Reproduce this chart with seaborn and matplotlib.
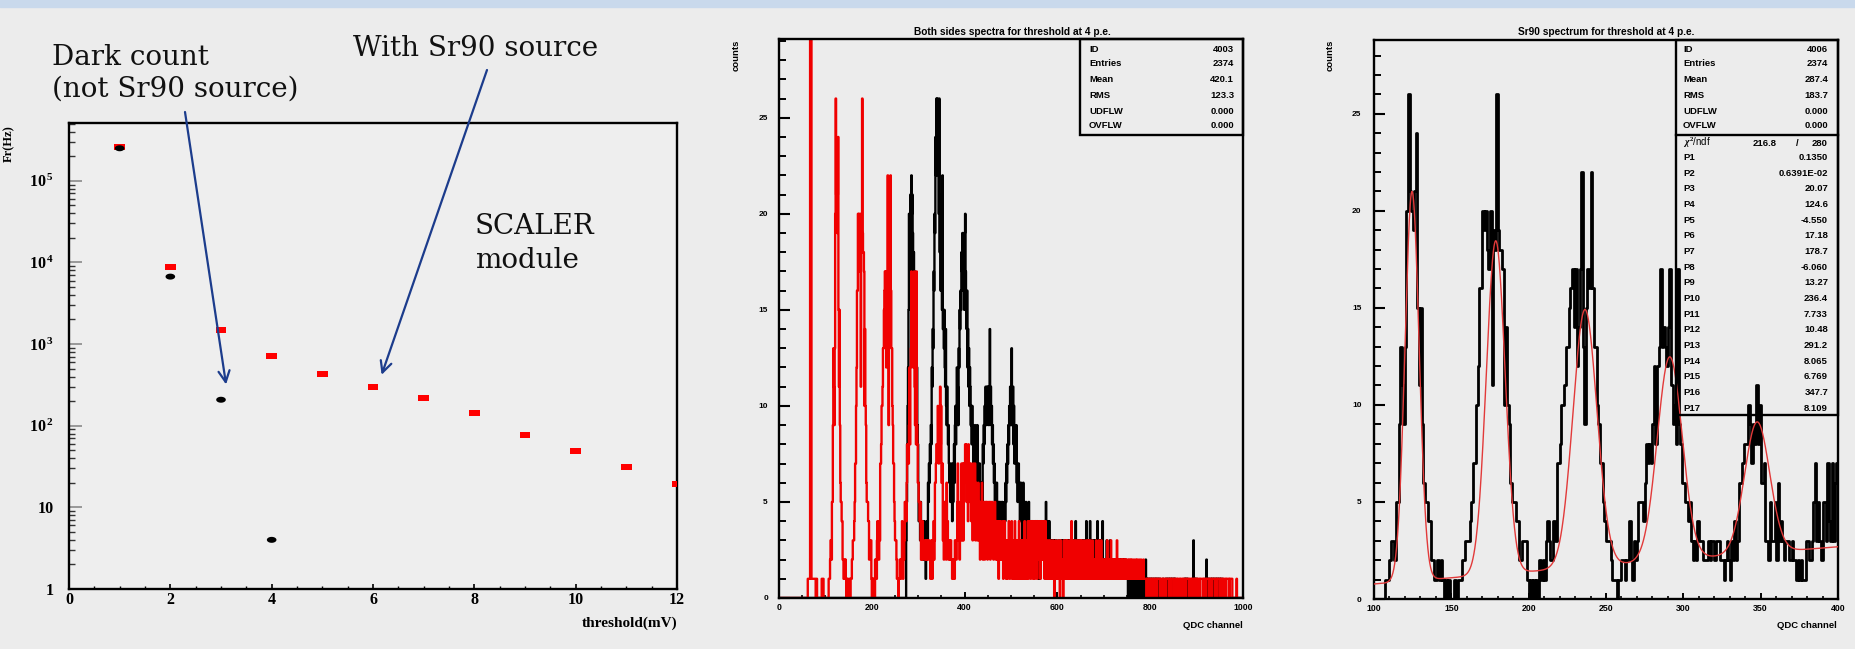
import numpy as np
import pandas as pd
import matplotlib
matplotlib.use("Agg")
import matplotlib.pyplot as plt
import seaborn as sns
from matplotlib.markers import MarkerStyle
from matplotlib.path import Path
from matplotlib.patches import Rectangle
from matplotlib.lines import Line2D
from matplotlib.ticker import FixedLocator, MultipleLocator, NullFormatter, FixedFormatter

# ---------------- data: left panel (SCALER rates) ----------------
thresholds_mv = [1, 2, 3, 4, 5, 6, 7, 8, 9, 10, 11, 12]
rate_with_sr90 = [2.6e5, 8900, 1500, 710, 435, 295, 218, 142, 76, 49, 31, 19.5]
dark_thresholds_mv = [1, 2, 3, 4]
rate_dark = [2.5e5, 6700, 208, 4.0]
log_tick_values = [1, 10, 100, 1000, 1e4, 1e5]
log_tick_labels = ["1", "10", "10$^{\\,2}$", "10$^{\\,3}$", "10$^{\\,4}$", "10$^{\\,5}$"]

# ---------------- data: histogram ID 4006 (Sr90 spectrum), 1 channel bins ----------------
sr90_000_099 = [0] * 60 + [
    0, 0, 1, 1, 1, 1, 1, 32, 36, 30,
    1, 1, 1, 1, 1, 1, 1, 1, 1, 0,
    0, 1, 0, 0, 0, 0, 0, 0, 0, 0,
    0, 0, 1, 1, 1, 1, 0, 0, 0, 0]
sr90_100_399 = [
    0, 0, 0, 0, 0, 0, 0, 1, 1, 1,
    2, 3, 3, 2, 5, 5, 9, 13, 11, 9,
    13, 20, 26, 21, 20, 19, 21, 24, 15, 11,
    15, 9, 6, 5, 5, 4, 4, 2, 2, 1,
    1, 2, 1, 2, 1, 0, 1, 0, 1, 0,
    0, 0, 1, 0, 1, 1, 1, 2, 2, 3,
    3, 3, 4, 5, 7, 7, 10, 12, 16, 16,
    20, 19, 20, 18, 17, 20, 11, 19, 18, 26,
    19, 18, 18, 17, 10, 14, 10, 9, 6, 5,
    5, 5, 4, 4, 2, 2, 3, 3, 3, 1,
    0, 1, 0, 1, 0, 1, 0, 2, 1, 2,
    1, 3, 4, 3, 2, 2, 4, 3, 7, 7,
    8, 10, 10, 11, 13, 13, 15, 16, 17, 14,
    17, 12, 14, 17, 22, 13, 9, 15, 17, 16,
    22, 16, 13, 13, 10, 9, 7, 7, 5, 4,
    3, 3, 3, 2, 1, 1, 1, 0, 1, 1,
    2, 2, 1, 2, 2, 4, 2, 1, 3, 2,
    3, 5, 5, 5, 4, 6, 8, 7, 8, 7,
    9, 12, 8, 12, 13, 17, 13, 14, 13, 12,
    14, 17, 11, 9, 10, 8, 17, 9, 8, 6,
    6, 5, 5, 4, 5, 3, 2, 3, 2, 4,
    3, 3, 3, 2, 2, 2, 3, 2, 3, 3,
    2, 3, 3, 3, 2, 2, 1, 2, 3, 2,
    1, 3, 2, 4, 2, 3, 6, 6, 7, 8,
    8, 8, 10, 9, 7, 9, 8, 11, 8, 10,
    6, 6, 7, 3, 3, 2, 5, 3, 3, 5,
    2, 6, 3, 4, 3, 2, 3, 3, 2, 2,
    3, 2, 2, 1, 2, 1, 2, 1, 1, 3,
    3, 2, 2, 3, 5, 7, 3, 5, 3, 2,
    5, 5, 3, 7, 4, 3, 7, 3, 6, 7]
sr90_400_999 = [
    6, 8, 7, 8, 5, 7, 6, 4, 8, 6,
    7, 5, 6, 7, 4, 5, 6, 3, 7, 5,
    4, 5, 7, 3, 6, 4, 5, 3, 4, 6,
    3, 5, 4, 2, 5, 3, 4, 6, 3, 2,
    4, 3, 5, 2, 4, 5, 3, 5, 4, 2,
    5, 3, 4, 5, 3, 2, 5, 4, 3, 5,
    4, 3, 2, 4, 3, 5, 4, 2, 3, 4,
    2, 4, 3, 1, 4, 2, 3, 4, 2, 3,
    3, 2, 4, 1, 3, 2, 4, 2, 3, 1,
    2, 3, 1, 3, 2, 4, 2, 1, 3, 2,
    2, 4, 1, 3, 2, 1, 3, 2, 4, 1,
    3, 2, 1, 2, 3, 1, 2, 4, 2, 1,
    2, 1, 3, 2, 1, 3, 2, 1, 2, 4,
    1, 2, 3, 1, 2, 2, 4, 1, 3, 2,
    4, 2, 1, 4, 3, 2, 4, 1, 2, 4,
    3, 1, 4, 2, 4, 3, 1, 4, 2, 3,
    4, 2, 3, 1, 4, 2, 4, 3, 2, 4,
    2, 4, 1, 3, 4, 2, 1, 3, 2, 1,
    2, 3, 1, 2, 1, 3, 2, 1, 2, 1,
    3, 1, 2, 0, 2, 1, 3, 2, 1, 2,
    1, 2, 3, 1, 2, 0, 1, 3, 1, 2,
    2, 1, 0, 2, 3, 1, 2, 1, 3, 1,
    1, 3, 2, 1, 2, 1, 3, 2, 1, 2,
    4, 2, 1, 3, 2, 1, 2, 3, 1, 2,
    2, 3, 1, 2, 1, 3, 2, 1, 2, 3,
    1, 2, 3, 1, 2, 2, 1, 3, 2, 1,
    2, 1, 3, 2, 1, 2, 3, 1, 2, 1,
    3, 1, 2, 1, 2, 3, 1, 2, 1, 2,
    1, 2, 1, 3, 2, 1, 2, 1, 2, 3,
    2, 1, 2, 1, 3, 1, 2, 1, 2, 1,
    1, 2, 1, 2, 1, 2, 1, 3, 1, 2,
    2, 1, 2, 1, 1, 3, 1, 2, 1, 2,
    1, 2, 1, 2, 2, 1, 2, 1, 3, 1,
    2, 1, 2, 1, 2, 1, 1, 2, 1, 2,
    1, 2, 1, 1, 2, 1, 2, 1, 2, 1,
    1, 1, 2, 1, 1, 2, 1, 1, 2, 1,
    1, 2, 1, 1, 1, 2, 1, 1, 1, 2,
    1, 1, 2, 1, 1, 1, 2, 1, 1, 1,
    2, 1, 1, 1, 1, 2, 1, 1, 1, 1,
    1, 1, 0, 1, 1, 1, 1, 0, 1, 1,
    1, 1, 1, 0, 1, 1, 1, 1, 1, 0,
    1, 1, 1, 1, 0, 1, 1, 1, 1, 1,
    1, 0, 1, 1, 1, 1, 1, 0, 1, 1,
    1, 1, 1, 0, 1, 1, 1, 1, 1, 1,
    0, 1, 1, 1, 1, 0, 1, 1, 1, 1,
    1, 1, 0, 1, 1, 1, 1, 1, 0, 1,
    1, 1, 1, 1, 0, 1, 1, 1, 1, 1,
    0, 1, 1, 1, 1, 1, 0, 1, 1, 1,
    1, 1, 1, 0, 1, 1, 1, 1, 1, 0,
    1, 1, 1, 1, 1, 0, 1, 1, 1, 1,
    1, 0, 1, 1, 1, 1, 1, 0, 1, 1,
    1, 1, 1, 1, 0, 1, 1, 1, 1, 1,
    0, 1, 1, 1, 1, 1, 1, 0, 1, 1,
    1, 1, 0, 1, 1, 1, 1, 1, 1, 0,
    1, 1, 1, 1, 0, 1, 1, 1, 1, 1,
    1, 0, 1, 1, 1, 1, 1, 0, 1, 1,
    1, 1, 1, 0, 1, 1, 1, 1, 1, 1,
    0, 1, 1, 1, 1, 1, 1, 0, 0, 0,
    0, 0, 0, 0, 0, 0, 1, 0, 0, 0,
    0, 0, 0, 0, 0, 0, 0, 0, 0, 0]

# ---------------- data: histogram ID 4003 (both sides), 1 channel bins ----------------
both_000_269 = [0] * 270
both_270_999 = [
    0, 0, 0, 0, 3, 5, 8, 10, 12, 15,
    20, 18, 20, 21, 17, 22, 20, 21, 19, 17,
    18, 14, 17, 12, 10, 11, 9, 12, 9, 8,
    6, 4, 5, 4, 3, 5, 3, 2, 4, 3,
    4, 2, 3, 4, 2, 3, 1, 3, 2, 4,
    3, 6, 5, 7, 6, 8, 7, 9, 8, 12,
    11, 14, 13, 17, 16, 20, 19, 24, 22, 26,
    23, 26, 25, 22, 20, 26, 18, 20, 16, 21,
    17, 15, 22, 14, 15, 13, 15, 12, 11, 14,
    10, 9, 11, 9, 8, 9, 7, 6, 7, 5,
    6, 5, 7, 4, 6, 5, 7, 8, 6, 9,
    10, 8, 10, 12, 10, 11, 9, 13, 12, 15,
    14, 16, 15, 18, 17, 19, 16, 18, 19, 15,
    19, 20, 17, 15, 14, 16, 12, 14, 11, 13,
    10, 12, 11, 9, 10, 8, 10, 9, 8, 7,
    8, 6, 9, 7, 5, 8, 6, 9, 5, 7,
    6, 5, 7, 5, 6, 4, 5, 6, 5, 8,
    7, 9, 8, 10, 9, 11, 10, 9, 11, 10,
    11, 10, 9, 11, 14, 10, 11, 9, 10, 8,
    9, 7, 8, 6, 7, 5, 6, 4, 5, 6,
    5, 4, 5, 3, 4, 5, 4, 3, 5, 4,
    3, 5, 4, 2, 4, 3, 5, 4, 6, 5,
    7, 6, 8, 7, 9, 8, 10, 9, 11, 10,
    9, 13, 10, 9, 11, 8, 10, 7, 9, 8,
    7, 9, 6, 7, 5, 6, 7, 5, 6, 4,
    5, 6, 4, 5, 3, 4, 6, 4, 3, 5,
    4, 3, 5, 4, 2, 4, 3, 4, 5, 3,
    4, 2, 3, 4, 3, 2, 4, 3, 2, 3,
    3, 2, 4, 3, 2, 3, 4, 2, 3, 1,
    2, 3, 1, 3, 2, 4, 3, 2, 3, 2,
    3, 2, 4, 3, 2, 5, 3, 2, 3, 4,
    3, 2, 4, 3, 2, 3, 1, 2, 3, 2,
    2, 3, 1, 2, 3, 2, 1, 2, 3, 2,
    2, 1, 2, 3, 2, 1, 2, 2, 3, 1,
    2, 3, 1, 2, 2, 3, 2, 1, 3, 2,
    3, 2, 1, 3, 2, 3, 2, 3, 1, 2,
    3, 2, 3, 1, 3, 2, 3, 2, 3, 4,
    2, 3, 1, 3, 2, 3, 2, 1, 3, 2,
    3, 1, 2, 3, 2, 3, 1, 2, 3, 2,
    3, 2, 4, 3, 2, 3, 2, 3, 1, 2,
    4, 3, 2, 3, 1, 3, 2, 3, 2, 3,
    2, 3, 1, 3, 2, 3, 4, 2, 3, 1,
    3, 2, 3, 2, 1, 3, 2, 4, 2, 1,
    2, 1, 2, 2, 1, 2, 3, 1, 2, 1,
    2, 1, 2, 3, 1, 2, 1, 2, 1, 2,
    1, 2, 2, 1, 2, 1, 2, 1, 2, 2,
    1, 2, 1, 2, 1, 2, 1, 1, 2, 1,
    2, 1, 2, 1, 2, 1, 1, 2, 1, 1,
    1, 1, 0, 1, 1, 1, 1, 0, 1, 1,
    1, 1, 1, 0, 1, 1, 1, 1, 0, 1,
    1, 0, 1, 1, 1, 1, 0, 1, 1, 1,
    1, 1, 0, 1, 1, 1, 1, 1, 0, 1,
    2, 1, 1, 1, 0, 1, 1, 1, 1, 0,
    1, 1, 0, 1, 1, 1, 0, 1, 1, 1,
    1, 0, 1, 1, 0, 1, 1, 1, 0, 1,
    1, 1, 0, 0, 0, 0, 0, 1, 1, 0,
    0, 0, 0, 1, 1, 1, 0, 1, 1, 1,
    1, 0, 1, 1, 1, 0, 1, 1, 1, 0,
    1, 1, 0, 1, 1, 0, 0, 0, 0, 0,
    0, 0, 0, 0, 0, 0, 0, 0, 0, 0,
    0, 0, 0, 1, 1, 0, 1, 1, 1, 0,
    1, 0, 0, 0, 0, 0, 0, 0, 0, 0,
    0, 0, 0, 3, 1, 1, 1, 0, 1, 1,
    1, 0, 0, 0, 0, 0, 0, 0, 0, 0,
    0, 0, 0, 0, 0, 0, 0, 0, 1, 1,
    1, 2, 1, 1, 0, 1, 1, 1, 1, 1,
    1, 1, 0, 1, 1, 1, 0, 1, 1, 1,
    1, 1, 0, 1, 1, 1, 1, 0, 1, 1,
    1, 0, 1, 1, 1, 1, 0, 0, 0, 0] + [0] * 40

# ---------------- fit parameters (read from the stats box) ----------------
fit_p1, fit_p2 = 0.1350, 0.6391e-02
gauss_amp = [20.07, 17.18, 13.27, 10.48, 6.769]
gauss_mean = [124.6, 178.7, 236.4, 291.2, 347.7]
gauss_sigma = [-4.550, -6.060, 7.733, 8.065, 8.109]

stats_labels_a = ["ID", "Entries", "Mean", "RMS", "UDFLW", "OVFLW"]
stats_values_4003 = ["4003", "2374", "420.1", "123.3", "0.000", "0.000"]
stats_values_4006 = ["4006", "2374", "287.4", "183.7", "0.000", "0.000"]
chi2_value, ndf_value = "216.8", "280"
fit_param_labels = ["P%d" % i for i in range(1, 18)]
fit_param_values = ["0.1350", "0.6391E-02", "20.07", "124.6", "-4.550", "17.18", "178.7",
                    "-6.060", "13.27", "236.4", "7.733", "10.48", "291.2", "8.065",
                    "6.769", "347.7", "8.109"]

# ---------------- build tables ----------------
sr90_counts = np.array(sr90_000_099 + sr90_100_399 + sr90_400_999, dtype=float)
both_counts = np.array(both_000_269 + both_270_999, dtype=float)
centers = np.arange(0, 1000) + 0.5
hist_df = pd.DataFrame({"channel": centers, "sr90": sr90_counts, "both": both_counts})

fit_x = np.linspace(100, 400, 1501)
fit_y = fit_p1 + fit_p2 * fit_x
for a, m, s in zip(gauss_amp, gauss_mean, gauss_sigma):
    fit_y = fit_y + a * np.exp(-0.5 * ((fit_x - m) / s) ** 2)
fit_df = pd.DataFrame({"x": fit_x, "y": fit_y})

# ---------------- figure ----------------
W, H = 1855, 649
BG = "#ececec"
plt.rcParams["mathtext.fontset"] = "custom"
plt.rcParams["mathtext.rm"] = "Liberation Serif:bold"
plt.rcParams["mathtext.bf"] = "Liberation Serif:bold"
plt.rcParams["mathtext.it"] = "Liberation Serif:bold:italic"

fig = plt.figure(figsize=(W / 100, H / 100), dpi=100, facecolor=BG)
fig.patches.append(Rectangle((0, 1 - 7 / H), 1, 7 / H, transform=fig.transFigure,
                             color="#c9d9ec", zorder=0))


def rect(l, t, r, b):
    return [l / W, 1 - b / H, (r - l) / W, (b - t) / H]


def ftext(x, y, s, **kw):
    return fig.text(x / W, 1 - y / H, s, **kw)


SANS = "Liberation Sans"
SERIF = "Liberation Serif"

# ================= left panel =================
ax1 = fig.add_axes(rect(69, 123, 677, 589))
ax1.set_facecolor("#eeeeee")
rect_marker = MarkerStyle(Path([(-1, -0.55), (1, -0.55), (1, 0.55), (-1, 0.55), (-1, -0.55)],
                               [1, 2, 2, 2, 79]))
th = np.linspace(0, 2 * np.pi, 40)
ell_marker = MarkerStyle(Path(np.column_stack([np.cos(th), 0.62 * np.sin(th)])))
sns.scatterplot(x=thresholds_mv, y=rate_with_sr90, marker=rect_marker, s=60,
                color="#ff0000", edgecolor="none", ax=ax1, zorder=3)
sns.scatterplot(x=dark_thresholds_mv, y=rate_dark, marker=ell_marker, s=48,
                color="#000000", edgecolor="none", ax=ax1, zorder=4)
ax1.set_yscale("log")
ax1.set_xlim(0, 12)
ax1.set_ylim(1, 5.1e5)
ax1.set_xlabel("")
ax1.set_ylabel("")
for sp in ax1.spines.values():
    sp.set_linewidth(1.7)
    sp.set_color("black")
ax1.yaxis.set_major_locator(FixedLocator(log_tick_values))
ax1.yaxis.set_major_formatter(FixedFormatter(log_tick_labels))
minor_vals = [m * 10 ** d for d in range(0, 6) for m in range(2, 10) if m * 10 ** d < 5.1e5]
ax1.yaxis.set_minor_locator(FixedLocator(minor_vals))
ax1.yaxis.set_minor_formatter(NullFormatter())
ax1.xaxis.set_major_locator(MultipleLocator(2))
ax1.xaxis.set_minor_locator(MultipleLocator(0.5))
ax1.tick_params(axis="y", which="major", direction="in", length=9, width=1.2,
                color="#8a8a8a", pad=11, labelsize=11.5)
ax1.tick_params(axis="y", which="minor", direction="in", length=4, width=1.0, color="#333333")
ax1.tick_params(axis="x", which="major", direction="in", length=3.5, width=1.2, pad=2,
                labelsize=11.5)
ax1.tick_params(axis="x", which="minor", direction="in", length=2.5, width=1.0)
for lab in ax1.get_xticklabels() + ax1.get_yticklabels():
    lab.set_fontfamily(SERIF)
    lab.set_fontweight("bold")
ftext(677, 623, "threshold(mV)", ha="right", va="center", fontsize=11,
      fontfamily=SERIF, fontweight="bold")
ftext(9, 125, "Fr(Hz)", ha="center", va="top", rotation=90, fontsize=9,
      fontfamily=SERIF, fontweight="bold")

ann_font = dict(fontfamily="DejaVu Serif", fontsize=20, color="#111111")
ftext(52, 65, "Dark count", ha="left", va="baseline", **ann_font)
ftext(52, 97, "(not Sr90 source)", ha="left", va="baseline", **ann_font)
ftext(353, 56, "With Sr90 source", ha="left", va="baseline", **ann_font)
ftext(475, 234, "SCALER", ha="left", va="baseline", **ann_font)
ftext(475, 268, "module", ha="left", va="baseline", **ann_font)
arrow_kw = dict(arrowstyle="->", color="#1c3c8c", lw=1.6, mutation_scale=20,
                shrinkA=0, shrinkB=0)
ax1.annotate("", xy=(3.1, 320), xycoords="data", xytext=(185 / W, 1 - 112 / H),
             textcoords="figure fraction", arrowprops=arrow_kw, annotation_clip=False)
ax1.annotate("", xy=(6.17, 420), xycoords="data", xytext=(487 / W, 1 - 70 / H),
             textcoords="figure fraction", arrowprops=arrow_kw, annotation_clip=False)


# ================= helper for ROOT-like histogram axes =================
def style_hist_axes(ax, xmaj, xmin_step, ypad):
    ax.set_facecolor(BG)
    ax.set_xlabel("")
    ax.set_ylabel("")
    for sp in ax.spines.values():
        sp.set_linewidth(1.7)
        sp.set_color("black")
    ax.xaxis.set_major_locator(MultipleLocator(xmaj))
    ax.xaxis.set_minor_locator(MultipleLocator(xmin_step))
    ax.yaxis.set_major_locator(MultipleLocator(5))
    ax.yaxis.set_minor_locator(MultipleLocator(1))
    ax.tick_params(axis="y", which="major", direction="in", length=8, width=1.5,
                   pad=ypad, labelsize=6)
    ax.tick_params(axis="y", which="minor", direction="in", length=5, width=1.4)
    ax.tick_params(axis="x", which="major", direction="in", length=4.5, width=1.4,
                   pad=3.5, labelsize=6.3)
    ax.tick_params(axis="x", which="minor", direction="in", length=2.2, width=1.2)
    for lab in ax.get_xticklabels() + ax.get_yticklabels():
        lab.set_fontfamily(SANS)
        lab.set_fontweight("bold")


stat_font = dict(fontfamily=SANS, fontweight="bold", fontsize=6.8, color="black")
row_y = [49, 64, 80, 96, 111, 126]
hist_kw = dict(binwidth=1, binrange=(0, 1000), element="step", fill=False)

# ================= middle panel =================
ax2 = fig.add_axes(rect(779, 39, 1243, 598))
sns.histplot(data=hist_df, x="channel", weights="both", color="black", linewidth=1.7,
             ax=ax2, **hist_kw)
sns.histplot(data=hist_df, x="channel", weights="sr90", color="#f00000", linewidth=1.7,
             ax=ax2, **hist_kw)
ax2.set_xlim(0, 1000)
ax2.set_ylim(0, 29.1)
style_hist_axes(ax2, 200, 50, 8)
ftext(1012, 32, "Both sides spectra for threshold at 4 p.e.", ha="center", va="center",
      fontfamily=SANS, fontweight="bold", fontsize=7.3)
ftext(1243, 626, "QDC channel", ha="right", va="center", fontfamily=SANS,
      fontweight="bold", fontsize=6.8)
ftext(736, 40, "counts", ha="center", va="top", rotation=90, fontfamily=SANS,
      fontweight="bold", fontsize=6.8)
fig.patches.append(Rectangle((1080 / W, 1 - 135 / H), (1243 - 1080) / W, (135 - 39) / H,
                             transform=fig.transFigure, fill=False, lw=1.7,
                             edgecolor="black", zorder=5))
for yy, lab, val in zip(row_y, stats_labels_a, stats_values_4003):
    ftext(1089, yy, lab, ha="left", va="center", **stat_font)
    ftext(1234, yy, val, ha="right", va="center", **stat_font)

# ================= right panel =================
ax3 = fig.add_axes(rect(1374, 40, 1838, 599))
sns.histplot(data=hist_df, x="channel", weights="sr90", color="black", linewidth=2.0,
             ax=ax3, **hist_kw)
sns.lineplot(data=fit_df, x="x", y="y", color="#e23a3a", linewidth=1.0, ax=ax3,
             zorder=4)
ax3.set_xlim(100, 400)
ax3.set_ylim(0, 28.8)
style_hist_axes(ax3, 50, 10, 9)
ftext(1606, 32, "Sr90 spectrum for threshold at 4 p.e.", ha="center", va="center",
      fontfamily=SANS, fontweight="bold", fontsize=7.3)
ftext(1837, 626, "QDC channel", ha="right", va="center", fontfamily=SANS,
      fontweight="bold", fontsize=6.8)
ftext(1330, 40, "counts", ha="center", va="top", rotation=90, fontfamily=SANS,
      fontweight="bold", fontsize=6.8)
fig.patches.append(Rectangle((1676 / W, 1 - 415 / H), (1838 - 1676) / W, (415 - 40) / H,
                             transform=fig.transFigure, fill=False, lw=1.7,
                             edgecolor="black", zorder=5))
fig.lines.append(Line2D([1676 / W, 1838 / W], [1 - 135 / H, 1 - 135 / H],
                        transform=fig.transFigure, color="black", lw=1.7, zorder=5))
for yy, lab, val in zip(row_y, stats_labels_a, stats_values_4006):
    ftext(1683, yy, lab, ha="left", va="center", **stat_font)
    ftext(1828, yy, val, ha="right", va="center", **stat_font)
ftext(1683, 143, "$\\chi^2$/ndf", ha="left", va="center", fontfamily=SANS, fontsize=7,
      color="black")
ftext(1777, 143, chi2_value, ha="right", va="center", **stat_font)
ftext(1797, 143, "/", ha="center", va="center", **stat_font)
ftext(1828, 143, ndf_value, ha="right", va="center", **stat_font)
for i, (lab, val) in enumerate(zip(fit_param_labels, fit_param_values)):
    yy = 157.5 + i * 15.67
    ftext(1683, yy, lab, ha="left", va="center", **stat_font)
    ftext(1828, yy, val, ha="right", va="center", **stat_font)

fig.savefig("out.png", dpi=100, facecolor=BG)
